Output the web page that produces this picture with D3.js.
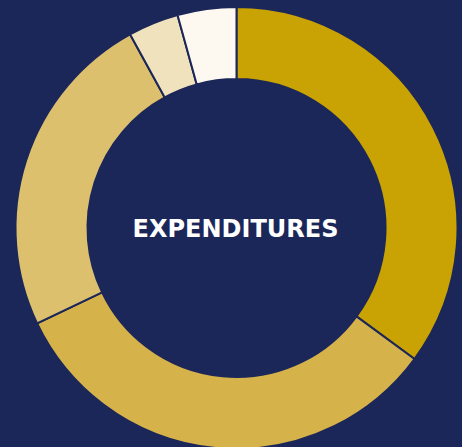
<!DOCTYPE html>
<html>
<head>
<meta charset="utf-8">
<script src="https://cdn.jsdelivr.net/npm/d3@7"></script>
<style>
  html, body { margin: 0; padding: 0; background: #1c2759; }
  svg { display: block; }
</style>
</head>
<body>
<svg id="donut"></svg>
<script>
  // slices, clockwise from 12 o'clock
  var categories = ["A", "B", "C", "D", "E"];
  var values = [35.1, 32.8, 24.1, 3.7, 4.3];
  var colors = ["#c9a203", "#d6b24a", "#dcc06e", "#f0e2bc", "#fdf9f0"];
  var centerLabel = "EXPENDITURES";

  var width = 462, height = 447;
  var cx = 236.5, cy = 228;
  var outerR = 221, innerR = 149;

  var svg = d3.select("#donut")
              .attr("width", width)
              .attr("height", height);

  svg.append("rect")
     .attr("width", width)
     .attr("height", height)
     .attr("fill", "#1c2759");

  var data = categories.map(function(c, i) { return {name: c, value: values[i], color: colors[i]}; });

  var pie = d3.pie()
              .value(function(d) { return d.value; })
              .sort(null);

  var arc = d3.arc()
              .innerRadius(innerR)
              .outerRadius(outerR);

  var g = svg.append("g")
             .attr("transform", "translate(" + cx + "," + cy + ")");

  g.selectAll("path")
   .data(pie(data))
   .enter().append("path")
   .attr("d", arc)
   .attr("fill", function(d) { return d.data.color; })
   .attr("stroke", "#1c2759")
   .attr("stroke-width", 2);

  g.append("text")
   .attr("x", -1)
   .attr("y", 2)
   .attr("text-anchor", "middle")
   .attr("dominant-baseline", "middle")
   .attr("fill", "#ffffff")
   .style("font-family", "'DejaVu Sans', sans-serif")
   .style("font-weight", 700)
   .style("font-size", "24px")
   .text(centerLabel);
</script>
</body>
</html>
